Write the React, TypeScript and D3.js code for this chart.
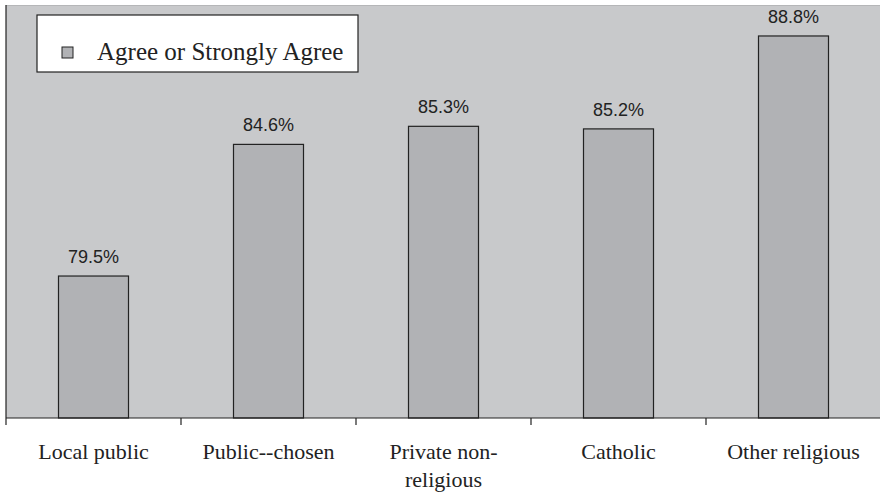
import * as d3 from "d3";

const categories = [
  ["Local public"],
  ["Public--chosen"],
  ["Private non-", "religious"],
  ["Catholic"],
  ["Other religious"],
];
const values = [79.5, 84.6, 85.3, 85.2, 88.8];
const seriesName = "Agree or Strongly Agree";

const width = 880;
const height = 494;
const margin = { top: 5, right: -1, bottom: 76, left: 6 };

export default function App() {
  const innerW = width - margin.left - margin.right;
  const innerH = height - margin.top - margin.bottom;

  const x = d3
    .scaleBand<number>()
    .domain(d3.range(values.length))
    .range([0, innerW])
    .paddingInner(0.6)
    .paddingOuter(0.3);
  const y = d3.scaleLinear().domain([74, 90]).range([innerH, 0]);

  // category boundaries (tick marks between bands)
  const step = x.step();
  const tickXs = d3.range(values.length + 1).map((i) => x(0)! - step * 0.3 + i * step);

  return (
    <svg
      width={width}
      height={height}
      style={{ position: "absolute", left: 0, top: 0, background: "#fff" }}
    >
      <g transform={`translate(${margin.left},${margin.top})`}>
        <rect x={0} y={0} width={innerW} height={innerH} fill="#c8c9cb" />
        <line x1={0} x2={innerW} y1={0.5} y2={0.5} stroke="#b5b6b8" />
        <line x1={0} x2={0} y1={0} y2={innerH} stroke="#222" strokeWidth={1.2} />

        {values.map((v, i) => (
          <g key={i}>
            <rect
              x={x(i)}
              y={y(v)}
              width={x.bandwidth()}
              height={innerH - y(v)}
              fill="#b1b2b5"
              stroke="#222"
              strokeWidth={1.2}
            />
            <text
              x={x(i)! + x.bandwidth() / 2}
              y={y(v) - 13}
              textAnchor="middle"
              fontFamily="Liberation Sans, Arial, sans-serif"
              fontSize={18}
              fill="#222"
            >
              {v.toFixed(1)}%
            </text>
          </g>
        ))}

        {/* axis */}
        <line x1={0} x2={innerW} y1={innerH} y2={innerH} stroke="#222" strokeWidth={1.2} />
        {tickXs.map((tx, i) => (
          <line key={i} x1={tx} x2={tx} y1={innerH} y2={innerH + 7} stroke="#222" strokeWidth={1.2} />
        ))}
        {categories.map((lines, i) => (
          <text
            key={i}
            x={x(i)! + x.bandwidth() / 2}
            y={innerH + 41}
            textAnchor="middle"
            fontFamily="Liberation Serif, Times New Roman, serif"
            fontSize={22}
            fill="#222"
          >
            {lines.map((l, j) => (
              <tspan key={j} x={x(i)! + x.bandwidth() / 2} dy={j === 0 ? 0 : 28}>
                {l}
              </tspan>
            ))}
          </text>
        ))}

        {/* legend */}
        <g transform="translate(31,10)">
          <rect x={0} y={0} width={321} height={57} fill="#fff" stroke="#222" strokeWidth={1.2} />
          <rect x={25} y={32} width={11} height={11} fill="#b1b2b5" stroke="#222" />
          <text
            x={60}
            y={45}
            fontFamily="Liberation Serif, Times New Roman, serif"
            fontSize={25}
            fill="#222"
          >
            {seriesName}
          </text>
        </g>
      </g>
    </svg>
  );
}
